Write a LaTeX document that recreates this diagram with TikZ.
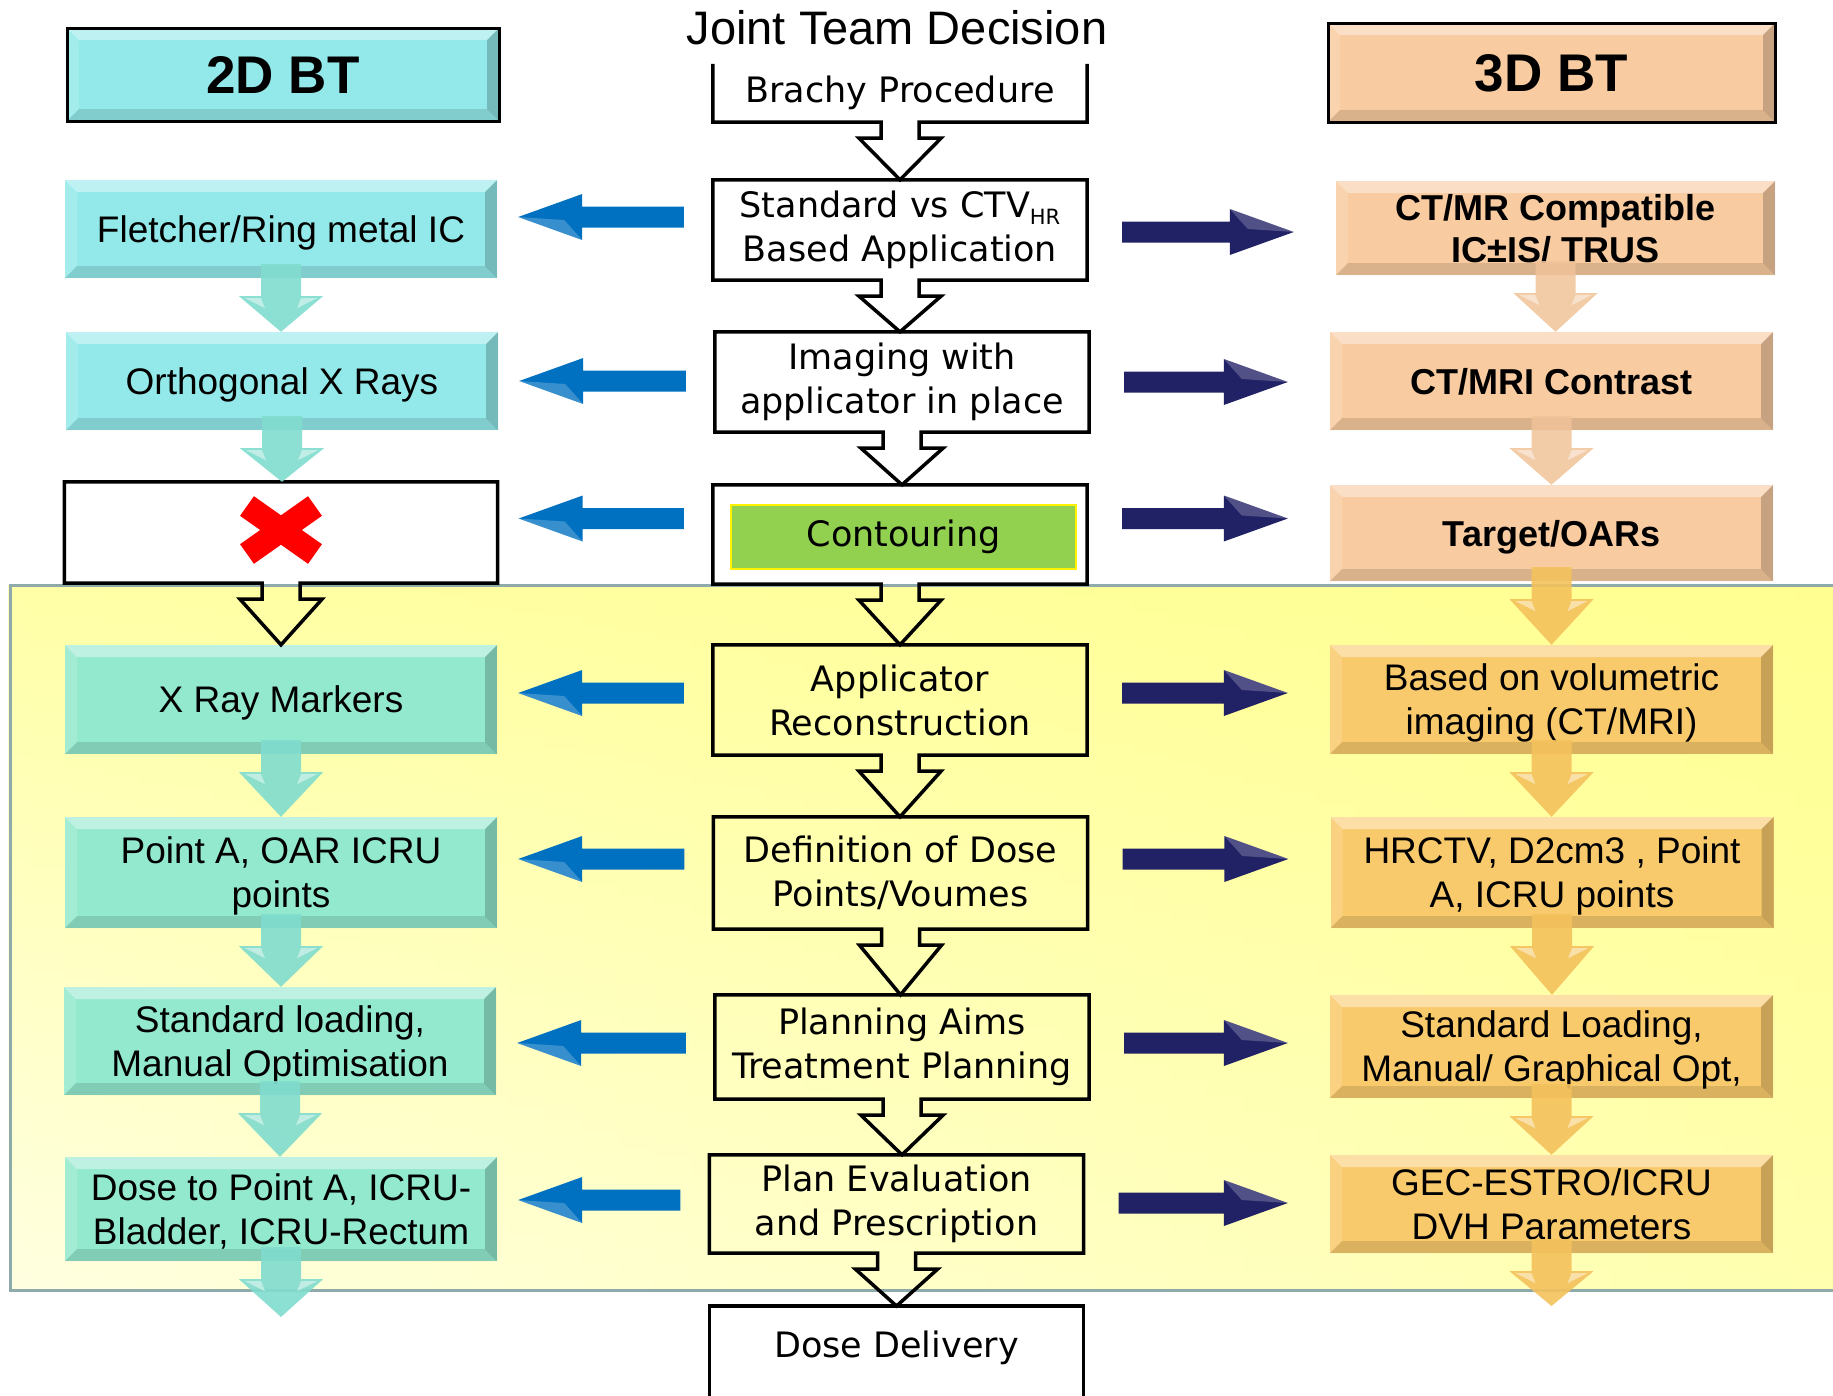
\documentclass[tikz,border=0pt]{standalone}
\usepackage{fontspec}
\setmainfont{Liberation Sans}
\newfontfamily\flowfont{DejaVu Sans}
\usetikzlibrary{calc,fadings}

\definecolor{cyanbox}{RGB}{147,233,233}
\definecolor{cyanlow}{RGB}{147,233,205}
\definecolor{peachbox}{RGB}{248,203,160}
\definecolor{goldbox}{RGB}{249,202,108}
\definecolor{leftblue}{RGB}{0,112,192}
\definecolor{navy}{RGB}{33,33,102}
\definecolor{framegrey}{RGB}{143,170,170}
\definecolor{contgreen}{RGB}{146,208,80}
\definecolor{paleyellow}{RGB}{255,255,225}
\definecolor{midyellow}{RGB}{255,255,175}
\definecolor{brightyellow}{RGB}{255,255,120}
\definecolor{mintedge}{RGB}{128,220,206}
\definecolor{mintmid}{RGB}{172,242,230}
\definecolor{peachedge}{RGB}{240,194,152}
\definecolor{peachmid}{RGB}{251,222,194}
\definecolor{goldedge}{RGB}{244,194,92}
\definecolor{goldmid}{RGB}{252,216,132}

\tikzset{
  bevel/.style={path picture={
      \coordinate (bv1) at (path picture bounding box.north west);
      \coordinate (bv2) at (path picture bounding box.north east);
      \coordinate (bv3) at (path picture bounding box.south east);
      \coordinate (bv4) at (path picture bounding box.south west);
      \fill[white,opacity=.4] (bv1) -- (bv2) -- ([shift={(-12pt,-12pt)}]bv2) -- ([shift={(12pt,-12pt)}]bv1) -- cycle;
      \fill[white,opacity=.15] (bv1) -- ([shift={(12pt,-12pt)}]bv1) -- ([shift={(12pt,12pt)}]bv4) -- (bv4) -- cycle;
      \fill[black,opacity=.12] (bv4) -- ([shift={(12pt,12pt)}]bv4) -- ([shift={(-12pt,12pt)}]bv3) -- (bv3) -- cycle;
      \fill[black,opacity=.2] (bv2) -- ([shift={(-12pt,-12pt)}]bv2) -- ([shift={(-12pt,12pt)}]bv3) -- (bv3) -- cycle;
    }},
  sidebox/.style={bevel, inner sep=0pt, text depth=0pt, align=center, font=\fontsize{37}{44}\selectfont},
  leftbox/.style={sidebox, fill=cyanbox, minimum width=432pt},
  lowleft/.style={sidebox, fill=cyanlow, minimum width=432pt},
  rightbox/.style={sidebox, fill=peachbox, minimum width=443pt, font=\fontsize{36}{42}\selectfont\bfseries},
  lowright/.style={sidebox, fill=goldbox, minimum width=443pt},
  headbox/.style={draw=black, line width=3pt, font=\fontsize{53}{60}\selectfont\bfseries},
  steptext/.style={minimum width=374pt, inner sep=0pt, align=center, font=\flowfont\fontsize{35}{44}\selectfont},
  flowline/.style={draw=black, line width=3.5pt, line join=miter},
  redx/.style={draw=red, line width=24pt},
  cyanarrow/.style={left color=mintedge, middle color=mintmid, right color=mintedge, opacity=.9},
  peacharrow/.style={left color=peachedge, middle color=peachmid, right color=peachedge, opacity=.85},
  goldarrow/.style={left color=goldedge, middle color=goldmid, right color=goldedge, opacity=.9},
}

% open block arrow below a step box, outline of the box included
\newcommand\flowstep[2]{%
  \draw[flowline] ($(#1.south)+(-19,0)$) -- (#1.south west) -- (#1.north west)
    -- (#1.north east) -- (#1.south east) -- ($(#1.south)+(19,0)$) -- ++(0,16)
    -- ++(22,0) -- (#1.south |- #2) -- ($(#1.south)+(-41,16)$) -- ++(22,0) -- cycle;}

% small shaded arrow between two boxes of a side column
\newcommand\sidestep[3]{%
  \shade[#3] ($(#1.south)+(-20,-14)$) -- ($(#1.south)+(-20,18)$) -- ++(-22,0)
    -- (#1.south |- #2) -- ($(#1.south)+(42,18)$) -- ++(-22,0)
    -- ($(#1.south)+(20,-14)$) -- cycle;
  \fill[white,opacity=.45] ($(#1.south)+(-36,20)$) -- ($(#1.south)+(-20,20)$) -- ($(#1.south)+(-16,30)$) -- cycle;
  \fill[white,opacity=.45] ($(#1.south)+(36,20)$) -- ($(#1.south)+(20,20)$) -- ($(#1.south)+(16,30)$) -- cycle;}

% fat horizontal arrow, the tip keeps the height of the tail
\newcommand\fatarrow[3]{%
  \fill[#1] let \p1=(#2), \p2=(#3), \n1={sign(\x2-\x1)} in
    (\x1,{\y1+10.5pt}) -- ({\x2-(\n1)*64pt},{\y1+10.5pt}) -- ({\x2-(\n1)*64pt},{\y1+23pt})
    -- (\x2,\y1) -- ({\x2-(\n1)*64pt},{\y1-23pt}) -- ({\x2-(\n1)*64pt},{\y1-10.5pt})
    -- (\x1,{\y1-10.5pt}) -- cycle;
  \fill[white,opacity=.22] let \p1=(#2), \p2=(#3), \n1={sign(\x2-\x1)} in
    ({\x2-(\n1)*64pt},{\y1+(\n1)*23pt}) -- (\x2,\y1) -- ({\x2-(\n1)*46pt},{\y1+(\n1)*3pt}) -- cycle;}

\begin{document}
\begin{tikzpicture}[x=1pt,y=-1pt]
\useasboundingbox (0,0) rectangle (1833,1395);

% planning part
\shade[left color=paleyellow, right color=midyellow] (10,585) rectangle (1850,1290);
\fill[brightyellow, opacity=.55, path fading=south] (10,585) rectangle (1850,1290);
\draw[framegrey, line width=3pt] (10,585) rectangle (1850,1290);

% 2D column
\node[leftbox, headbox, minimum height=93pt] (l0) at (283,74.5) {2D BT};
\node[leftbox, minimum height=98pt] (l1) at (281,229) {Fletcher/Ring metal IC};
\node[leftbox, minimum height=98pt] (l2) at (282,381) {Orthogonal X Rays};
\node[fill=white, minimum width=433pt, minimum height=101pt] (l3) at (281,532.5) {};
\node[lowleft, minimum height=109pt] (l4) at (281,699.5) {X Ray Markers};
\node[lowleft, minimum height=111pt] (l5) at (281,872.5) {Point A, OAR ICRU\\points};
\node[lowleft, minimum height=108pt] (l6) at (280,1041) {Standard loading,\\Manual Optimisation};
\node[lowleft, minimum height=104pt] (l7) at (281,1209) {Dose to Point A, ICRU-\\Bladder, ICRU-Rectum};
\coordinate (lend) at (281,1317);

% 3D column
\node[rightbox, headbox, minimum width=447pt, minimum height=99pt] (r0) at (1551.5,72.5) {3D BT};
\node[rightbox, minimum width=439pt, minimum height=94pt] (r1) at (1555.5,228) {CT/MR Compatible\\IC±IS/ TRUS};
\node[rightbox, minimum height=98pt] (r2) at (1551.5,381) {CT/MRI Contrast};
\node[rightbox, minimum height=96pt] (r3) at (1551.5,533) {Target/OARs};
\node[lowright, minimum height=109pt] (r4) at (1551.5,699.5) {Based on volumetric\\imaging (CT/MRI)};
\node[lowright, minimum height=111pt] (r5) at (1552,872.5) {HRCTV, D2cm3 , Point\\A, ICRU points};
\node[lowright, minimum height=103pt] (r6) at (1551.5,1046.5) {Standard Loading,\\Manual/ Graphical Opt,};
\node[lowright, minimum height=98pt] (r7) at (1551.5,1204) {GEC-ESTRO/ICRU\\DVH Parameters};
\coordinate (rend) at (1552,1306);

% middle steps
\node[anchor=base, font=\fontsize{47}{50}\selectfont] (jtd) at (897,44) {Joint Team Decision};
\node[steptext, minimum height=58pt] (c0) at (900,93) {Brachy Procedure};
\node[steptext, minimum height=100pt] (c1) at (900,230) {Standard vs CTV\raisebox{-7pt}{\fontsize{21}{21}\selectfont HR}\\Based Application};
\node[steptext, minimum height=100pt] (c2) at (902,382) {Imaging with\\applicator in place};
\node[steptext, minimum height=99pt] (c3) at (900,534.5) {};
\node[steptext, fill=contgreen, draw=yellow, line width=1.5pt, minimum width=345pt, minimum height=64pt] (c3in) at (903.5,537) {Contouring};
\node[steptext, minimum height=110pt] (c4) at (900,700) {Applicator\\Reconstruction};
\node[steptext, minimum height=112pt] (c5) at (900.5,873) {Definition of Dose\\Points/Voumes};
\node[steptext, minimum height=104pt] (c6) at (902,1047) {Planning Aims\\Treatment Planning};
\node[steptext, minimum height=98pt] (c7) at (896.5,1204) {Plan Evaluation\\and Prescription};
\node[steptext, minimum height=84pt, anchor=north] (c8) at (896.5,1306) {Dose Delivery};

\draw[flowline] (c0.north west) -- (c0.south west) -- ($(c0.south)+(-19,0)$) -- ++(0,16)
  -- ++(-22,0) -- (c0.south |- c1.north) -- ($(c0.south)+(41,16)$) -- ++(-22,0)
  -- ++(0,-16) -- (c0.south east) -- (c0.north east);
\flowstep{c1}{c2.north}
\flowstep{c2}{c3.north}
\flowstep{c3}{c4.north}
\flowstep{c4}{c5.north}
\flowstep{c5}{c6.north}
\flowstep{c6}{c7.north}
\flowstep{c7}{c8.north}
\draw[flowline] ($(c8.south west)+(0,20)$) -- (c8.north west) -- (c8.north east) -- ($(c8.south east)+(0,20)$);

% no imaging based volumes on the 2D side
\flowstep{l3}{l4.north}
\draw[redx] ($(l3.center)+(-34,-26.5)$) -- ($(l3.center)+(34,21.5)$);
\draw[redx] ($(l3.center)+(-34,21.5)$) -- ($(l3.center)+(34,-26.5)$);

% arrows down the side columns
\sidestep{l1}{l2.north}{cyanarrow}
\sidestep{l2}{l3.north}{cyanarrow}
\sidestep{l4}{l5.north}{cyanarrow}
\sidestep{l5}{l6.north}{cyanarrow}
\sidestep{l6}{l7.north}{cyanarrow}
\sidestep{l7}{lend}{cyanarrow}
\sidestep{r1}{r2.north}{peacharrow}
\sidestep{r2}{r3.north}{peacharrow}
\sidestep{r3}{r4.north}{goldarrow}
\sidestep{r4}{r5.north}{goldarrow}
\sidestep{r5}{r6.north}{goldarrow}
\sidestep{r6}{r7.north}{goldarrow}
\sidestep{r7}{rend}{goldarrow}

% arrows out of the middle steps
\foreach \i/\dl/\dr in {1/-13/2, 2/-1/0, 3/-16/-16, 4/-7/-7, 5/-14/-14, 6/-4/-4, 7/-4/-1} {
  \fatarrow{leftblue}{$(c\i.west)+(-29,\dl)$}{$(l\i.east)+(21,0)$}
  \fatarrow{navy}{$(c\i.east)+(35,\dr)$}{$(r\i.west)+(-42,0)$}
}
\end{tikzpicture}
\end{document}
